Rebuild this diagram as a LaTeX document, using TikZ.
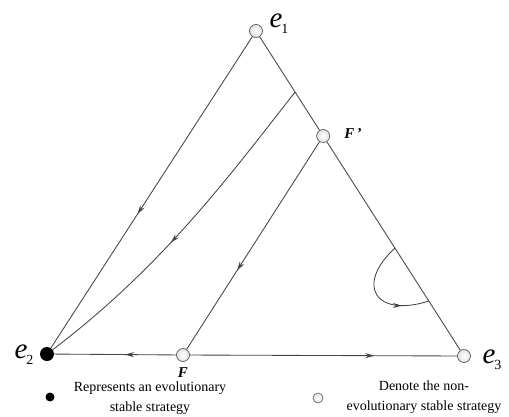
\documentclass[tikz,border=0pt]{standalone}
\usepackage{fontspec}
\setmainfont{Liberation Serif}
\usetikzlibrary{arrows.meta, calc, decorations.markings}
\definecolor{lngray}{HTML}{444444}
\definecolor{ptfill}{HTML}{E2E2E2}
\definecolor{ptedge}{HTML}{5A5A5A}

% vertex label: italic letter with upright subscript
\newcommand{\vlab}[2]{\fontsize{29}{29}\selectfont\textit{#1}\kern-1pt\raisebox{-0.45ex}{\fontsize{14}{14}\selectfont #2}}

\begin{document}
\begin{tikzpicture}[x=1pt, y=-1pt,
  flow/.style={lngray, line width=0.85pt},
  midarrow/.style={postaction={decorate, decoration={markings,
    mark=at position #1 with {\arrow{Stealth[length=9pt, width=5pt]}}}}},
  ess/.style={circle, fill=black, inner sep=0pt, minimum size=14pt},
  ness/.style={circle, draw=ptedge, line width=0.7pt, inner color=white, outer color=ptfill, inner sep=0pt, minimum size=13pt},
  flab/.style={inner sep=0.5pt, font=\fontsize{15}{15}\selectfont\bfseries\itshape},
  lgd/.style={inner sep=0pt, align=center, font=\fontsize{14}{20}\selectfont}]

% Canvas — same proportions as the reference (509 x 416)
\fill[white] (0,0) rectangle (509,416);
\useasboundingbox (0,0) rectangle (509,416);

% Equilibrium points
\node[ness] (e1) at (256,31) {};
\node[ess]  (e2) at (47,354) {};
\node[ness] (e3) at (464,356) {};
\node[ness] (F)  at (183,355) {};
\node[ness] (Fp) at ($(e1.center)!0.323!(e3.center)$) {};

% Points on the edge e1--e3 where trajectories start and end
\coordinate (c1) at ($(e1.center)!0.188!(e3.center)$);
\coordinate (c2) at ($(e1.center)!0.668!(e3.center)$);
\coordinate (c3) at ($(e1.center)!0.831!(e3.center)$);

% Simplex edges
\draw[flow, midarrow=0.57] (e1) -- (e2);
\draw[flow] (e1) -- (Fp);
\draw[flow] (Fp) -- (e3);
\draw[flow, midarrow=0.42] (F) -- (e2);
\draw[flow, midarrow=0.69] (F) -- (e3);

% Trajectories inside the simplex
\draw[flow, midarrow=0.62] (Fp) -- (F);
\draw[flow, midarrow=0.55] (c1) .. controls (235,168) and (167,263) .. (e2);
\draw[flow, midarrow=0.75] (c2) .. controls (355,285) and (375,318) .. (c3);

% Labels
\node (l1) at (279,24) {\vlab{e}{1}};
\node (l2) at (24,355) {\vlab{e}{2}};
\node (l3) at (492,360) {\vlab{e}{3}};
\node[flab] (lF)  at (183,373) {F};
\node[flab] (lFp) at (353,134) {F\,’};

% Legend
\node[ess, minimum size=9pt] (kess) at (50,397) {};
\node[lgd] (tess) at (150,398) {Represents an evolutionary\\stable strategy};
\node[ness, minimum size=10pt, line width=0.6pt] (kness) at (318,398) {};
\node[lgd] (tness) at (424,397) {Denote the non-\\evolutionary stable strategy};

\end{tikzpicture}
\end{document}
